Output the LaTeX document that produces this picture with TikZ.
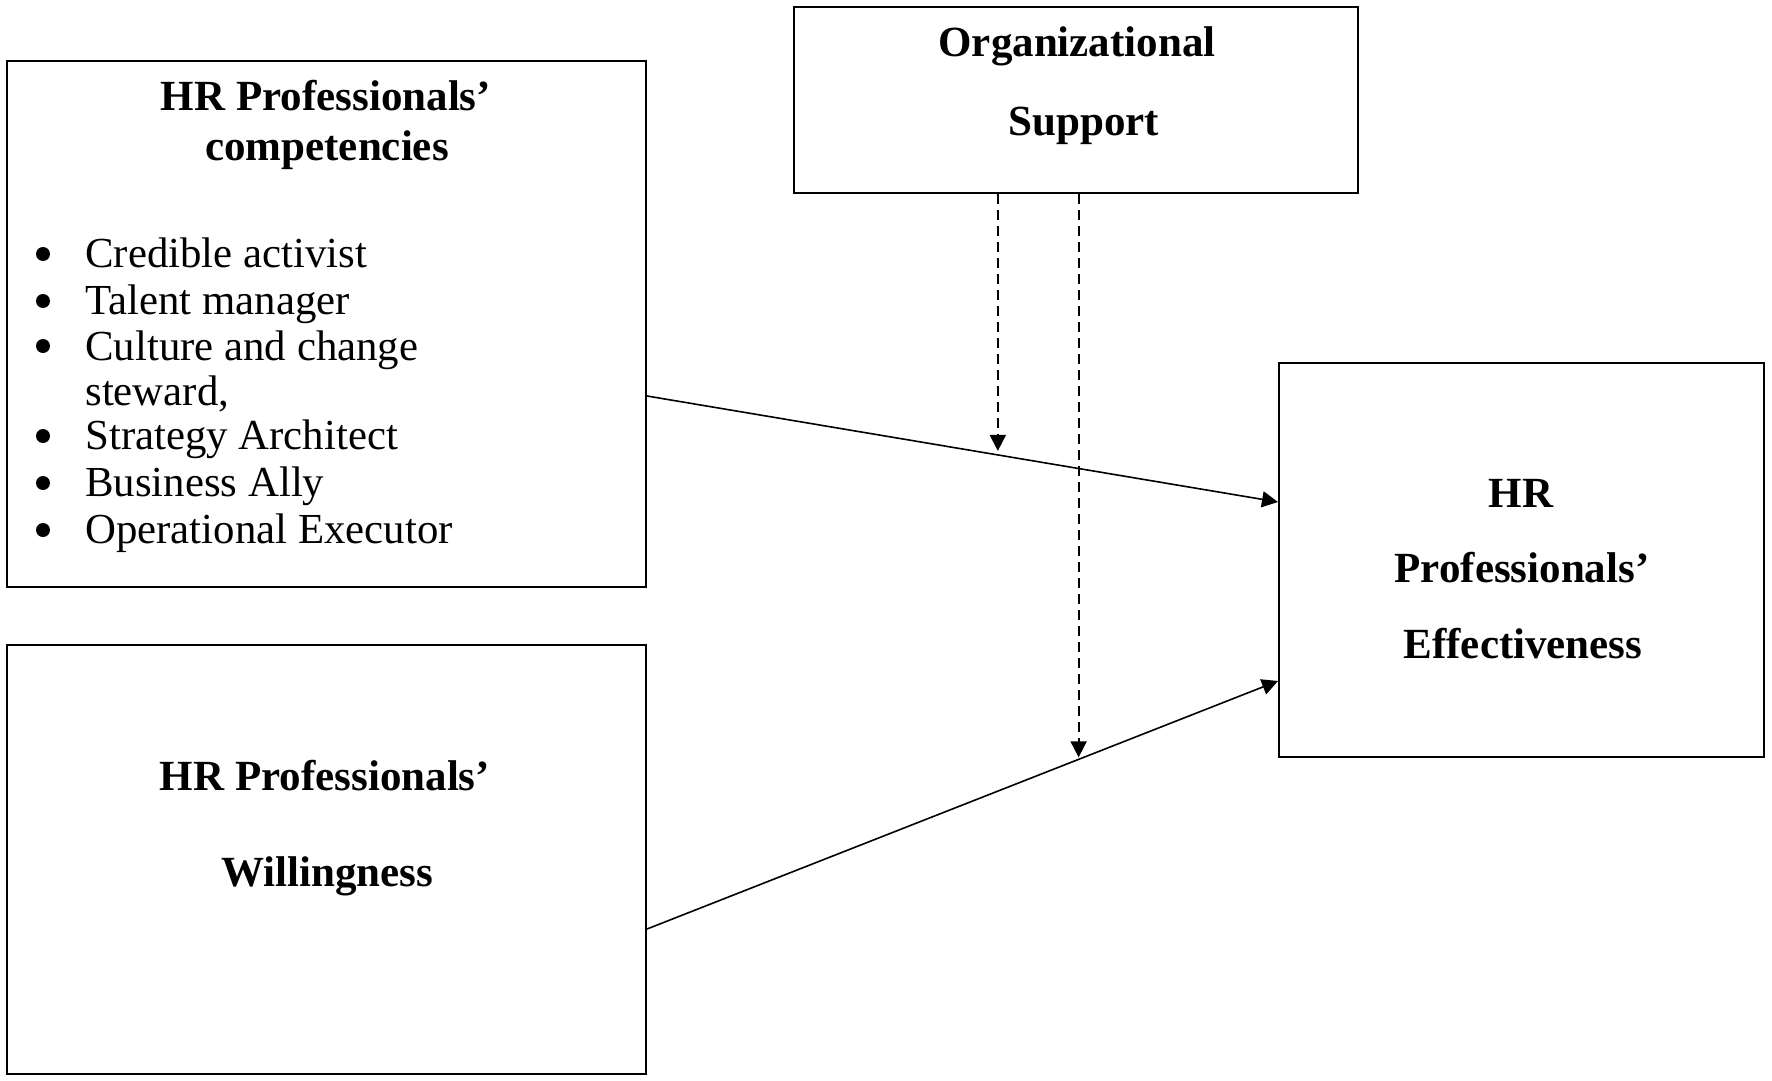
\documentclass[tikz,border=0pt]{standalone}
\usepackage{fontspec}
\setmainfont{Liberation Serif}
\usetikzlibrary{arrows.meta,calc}
\tikzset{
  box/.style={draw=black, line width=1pt, rectangle, inner sep=0pt},
  ttl/.style={font=\fontsize{21.5}{26}\selectfont\bfseries, inner sep=0pt, anchor=mid},
  itm/.style={font=\fontsize{21.4}{26}\selectfont, inner sep=0pt, anchor=mid west},
  bul/.style={circle, fill=black, inner sep=0pt, minimum size=7pt},
  conn/.style={line width=0.8pt, -{Triangle[width=8pt,length=8pt]}},
  dconn/.style={line width=0.9pt, dash pattern=on 5pt off 3pt, -{Triangle[width=8pt,length=8pt]}}
}
\begin{document}
\begin{tikzpicture}[x=0.5pt,y=-0.5pt]
\useasboundingbox[fill=white] (0,0) rectangle (1772,1081);
% boxes
\node[box, minimum width=319.5pt, minimum height=263pt] (b1) at (326.5,324) {};
\node[box, minimum width=319.5pt, minimum height=214.5pt] (b2) at (326.5,859.5) {};
\node[box, minimum width=282pt, minimum height=93pt] (b3) at (1076,100) {};
\node[box, minimum width=242.5pt, minimum height=197pt] (b4) at (1521.5,560) {};
% texts box1
\node[ttl] (t1a) at (326,106) {HR Professionals’};
\node[ttl] (t1b) at (327,156) {competencies};
\node[bul] (u1) at (43,254) {};
\node[bul] (u2) at (43,301) {};
\node[bul] (u3) at (43,346) {};
\node[bul] (u5) at (43,436) {};
\node[bul] (u6) at (43,483) {};
\node[bul] (u7) at (43,530) {};
\node[itm] (i1) at (85,263) {Credible activist};
\node[itm] (i2) at (85,310) {Talent manager};
\node[itm] (i3) at (85,356) {Culture and change};
\node[itm] (i4) at (85,401) {steward,};
\node[itm] (i5) at (85,445) {Strategy Architect};
\node[itm] (i6) at (85,492) {Business Ally};
\node[itm] (i7) at (85,539) {Operational Executor};
% box2
\node[ttl] (t2a) at (325,786) {HR Professionals’};
\node[ttl] (t2b) at (327,882) {Willingness};
% box3
\node[ttl] (t3a) at (1077,52) {Organizational};
\node[ttl] (t3b) at (1084,131) {Support};
% box4
\node[ttl] (t4a) at (1521,503) {HR};
\node[ttl] (t4b) at (1522,578) {Professionals’};
\node[ttl] (t4c) at (1523,654) {Effectiveness};
% connectors
\coordinate (s1) at (b1.east |- 0,396);
\coordinate (e1) at (b4.west |- 0,502);
\coordinate (s2) at (b2.east |- 0,929);
\coordinate (e2) at (b4.west |- 0,681);
\draw[conn] (s1) -- (e1);
\draw[conn] (s2) -- (e2);
\coordinate (m1) at ($(s1)!0.556!(e1)$);
\coordinate (m2) at ($(s2)!0.684!(e2)$);
\draw[dconn, shorten >=2pt] (m1 |- b3.south) -- (m1);
\draw[dconn, shorten >=1pt] (m2 |- b3.south) -- (m2);
\end{tikzpicture}
\end{document}
